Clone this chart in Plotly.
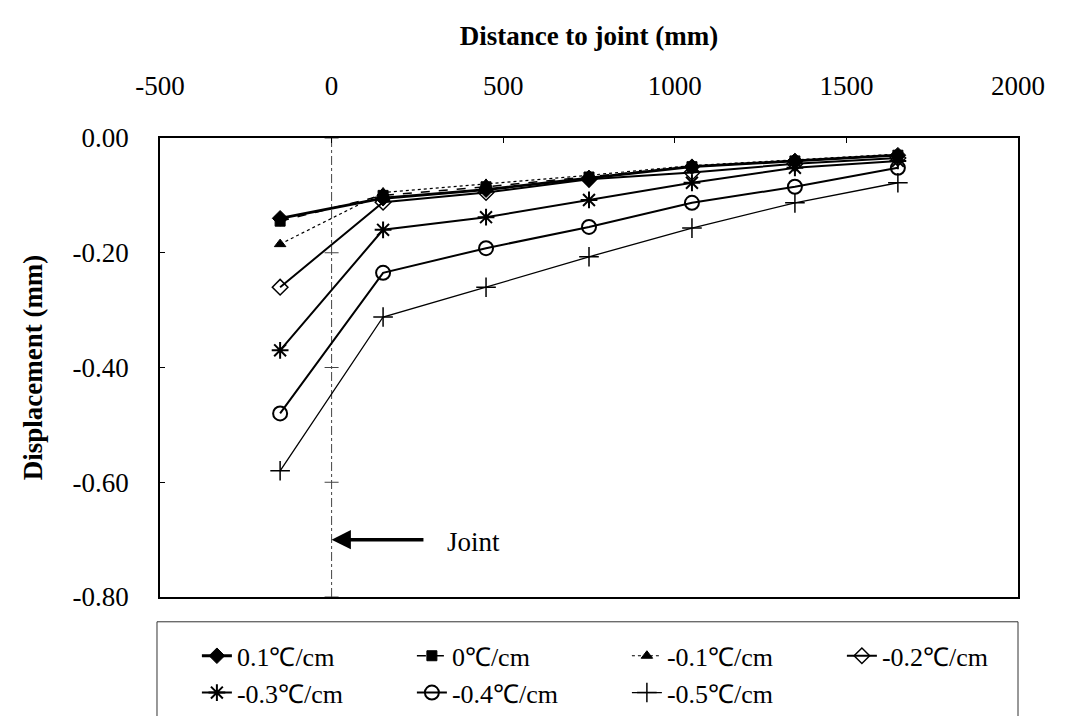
import plotly.graph_objects as go

# ---------------- data ----------------
distance = [-150, 150, 450, 750, 1050, 1350, 1650]

series_names = ["0.1℃/cm", "0℃/cm", "-0.1℃/cm", "-0.2℃/cm",
                "-0.3℃/cm", "-0.4℃/cm", "-0.5℃/cm"]

disp_p01 = [-0.140, -0.105, -0.090, -0.070, -0.050, -0.040, -0.030]
disp_0   = [-0.145, -0.100, -0.085, -0.068, -0.050, -0.040, -0.030]
disp_m01 = [-0.185, -0.095, -0.080, -0.065, -0.048, -0.038, -0.028]
disp_m02 = [-0.260, -0.112, -0.095, -0.072, -0.060, -0.045, -0.035]
disp_m03 = [-0.370, -0.160, -0.138, -0.108, -0.078, -0.052, -0.040]
disp_m04 = [-0.480, -0.235, -0.192, -0.155, -0.113, -0.085, -0.052]
disp_m05 = [-0.580, -0.312, -0.260, -0.207, -0.157, -0.113, -0.078]

joint_x = [0, 0, 0, 0, 0]
joint_y = [0.0, -0.2, -0.4, -0.6, -0.8]

x_tick_vals = [-500, 0, 500, 1000, 1500, 2000]
x_tick_text = ["-500", "0", "500", "1000", "1500", "2000"]
y_tick_vals = [0.0, -0.2, -0.4, -0.6, -0.8]
y_tick_text = ["0.00", "-0.20", "-0.40", "-0.60", "-0.80"]

all_series = [disp_p01, disp_0, disp_m01, disp_m02, disp_m03, disp_m04, disp_m05]

# ---------------- styles ----------------
styles = [
    dict(dash="solid", width=2.8, symbol="diamond", size=12, mlw=1),
    dict(dash="dash", width=1.5, symbol="square", size=10, mlw=1),
    dict(dash="dot", width=1.2, symbol="triangle-up", size=10, mlw=1),
    dict(dash="solid", width=2, symbol="diamond-open", size=12, mlw=1.5),
    dict(dash="solid", width=2, symbol="asterisk-open", size=14, mlw=2),
    dict(dash="solid", width=2, symbol="circle-open", size=14, mlw=2),
    dict(dash="solid", width=1.3, symbol="cross-thin-open", size=14, mlw=1.5),
]

FONT = "Liberation Serif, Times New Roman, serif"

fig = go.Figure()

# joint line
fig.add_trace(go.Scatter(
    x=joint_x, y=joint_y, mode="lines+markers",
    line=dict(color="#444", width=1, dash="dashdot"),
    marker=dict(symbol="line-ew-open", size=10, line=dict(color="#444", width=1)),
    showlegend=False, hoverinfo="skip"))

for name, ys, st in zip(series_names, all_series, styles):
    fig.add_trace(go.Scatter(
        x=distance, y=ys, name=name, mode="lines+markers",
        line=dict(color="black", width=st["width"], dash=st["dash"]),
        marker=dict(symbol=st["symbol"], size=st["size"], color="black",
                    line=dict(color="black", width=st["mlw"])),
    ))

fig.update_layout(
    width=1069, height=716,
    margin=dict(l=160, r=51, t=138, b=119, autoexpand=False),
    paper_bgcolor="white", plot_bgcolor="white",
    font=dict(family=FONT, size=26, color="black"),
    showlegend=True,
    legend=dict(
        orientation="h", x=0.043, xanchor="left", y=-0.077, yanchor="top",
        font=dict(family=FONT, size=26, color="black"),
        entrywidth=170, entrywidthmode="pixels",
        bgcolor="rgba(0,0,0,0)", tracegroupgap=0,
    ),
    xaxis=dict(
        side="top", range=[-500, 2000], tickmode="array",
        tickvals=x_tick_vals, ticktext=x_tick_text,
        showgrid=False, zeroline=False,
        showline=True, linecolor="black", linewidth=1.5, mirror=True,
        ticks="inside", ticklen=5, tickcolor="black",
        ticklabelstandoff=30,
        tickfont=dict(family=FONT, size=27),
        title=dict(text="<b>Distance to joint (mm)</b>", standoff=18,
                   font=dict(family=FONT, size=27)),
    ),
    yaxis=dict(
        range=[-0.8, 0], tickmode="array",
        tickvals=y_tick_vals, ticktext=y_tick_text,
        showgrid=False, zeroline=False,
        showline=True, linecolor="black", linewidth=1.5, mirror=True,
        ticks="inside", ticklen=5, tickcolor="black",
        ticklabelstandoff=24,
        tickfont=dict(family=FONT, size=27),
        title=dict(text="<b>Displacement (mm)</b>", standoff=22,
                   font=dict(family=FONT, size=27)),
    ),
    shapes=[dict(type="rect", xref="paper", yref="paper",
                 x0=-0.0035, x1=1.0, y0=-0.27, y1=-0.054,
                 line=dict(color="#333", width=1), layer="above")],
    annotations=[
        dict(x=0, y=-0.70, xref="x", yref="y", ax=272, ay=-0.70,
             axref="x", ayref="y", text="", showarrow=True,
             arrowhead=2, arrowsize=1.1, arrowwidth=3.5, arrowcolor="black"),
        dict(x=330, y=-0.705, xref="x", yref="y", text="Joint",
             showarrow=False, xanchor="left", yanchor="middle",
             font=dict(family=FONT, size=27, color="black")),
    ],
)

fig.write_html("out.html")
